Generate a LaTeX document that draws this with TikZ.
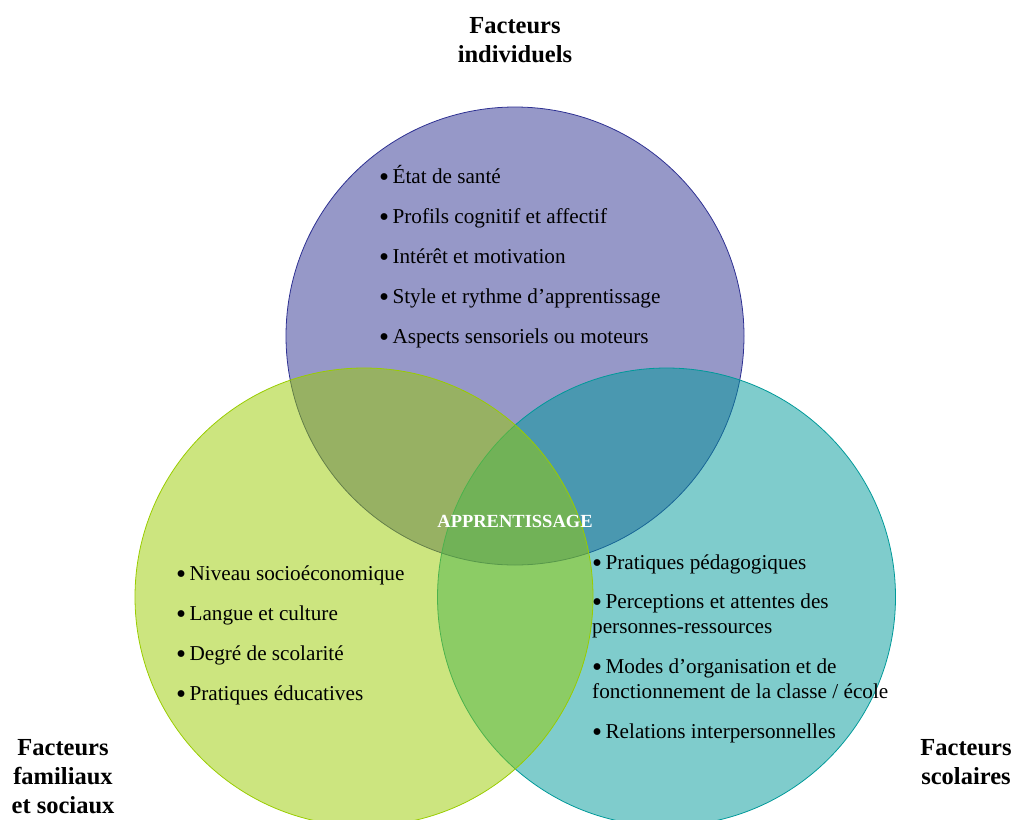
\documentclass[tikz,border=0pt]{standalone}
\usepackage{fontspec}
\setmainfont{Liberation Serif}
\definecolor{cTop}{HTML}{2E3192}
\definecolor{cLeft}{HTML}{99CC00}
\definecolor{cRight}{HTML}{009999}
\newcommand\mybul{\makebox[0.38em][l]{\raisebox{-0.17em}{\scalebox{1.35}{•}}}}
\begin{document}
\begin{tikzpicture}[x=1pt,y=-1pt,
  venn/.style={circle, minimum size=458pt, inner sep=0pt, outer sep=0pt, line width=0.8pt, fill opacity=0.5},
  item/.style={anchor=base west, inner sep=0pt, font=\fontsize{21.2}{26}\selectfont},
  title/.style={anchor=base, inner sep=0pt, font=\fontsize{24.5}{29}\selectfont\bfseries},
]
\useasboundingbox (0,0) rectangle (1019,819);
\clip (0,0) rectangle (1019,819);
% circles
\node[venn, draw=cTop, fill=cTop] (ctop) at (515,336) {};
\node[venn, draw=cRight, fill=cRight] (cright) at (666.5,597) {};
\node[venn, draw=cLeft, fill=cLeft] (cleft) at (364,597) {};
% titles
\node[title] (t1a) at (515,33) {Facteurs};
\node[title] (t1b) at (515,62) {individuels};
\node[title] (t2a) at (63,755) {Facteurs};
\node[title] (t2b) at (63,784) {familiaux};
\node[title] (t2c) at (63,813) {et sociaux};
\node[title] (t3a) at (966,755) {Facteurs};
\node[title] (t3b) at (966,784) {scolaires};
% centre
\node[anchor=base, inner sep=0pt, text=white, font=\fontsize{18.5}{22}\selectfont\bfseries] (center) at (515,527) {APPRENTISSAGE};
% top items
\node[item] (i1) at (379,183) {\mybul{} État de santé};
\node[item] (i2) at (379,223) {\mybul{} Profils cognitif et affectif};
\node[item] (i3) at (379,263) {\mybul{} Intérêt et motivation};
\node[item] (i4) at (379,303) {\mybul{} Style et rythme d’apprentissage};
\node[item] (i5) at (379,343) {\mybul{} Aspects sensoriels ou moteurs};
% left items
\node[item] (f1) at (176,580) {\mybul{} Niveau socioéconomique};
\node[item] (f2) at (176,620) {\mybul{} Langue et culture};
\node[item] (f3) at (176,660) {\mybul{} Degré de scolarité};
\node[item] (f4) at (176,700) {\mybul{} Pratiques éducatives};
% right items
\node[item] (s1) at (592,569) {\mybul{} Pratiques pédagogiques};
\node[item] (s2a) at (592,608) {\mybul{} Perceptions et attentes des};
\node[item] (s2b) at (592,633) {personnes-ressources};
\node[item] (s3a) at (592,673) {\mybul{} Modes d’organisation et de};
\node[item] (s3b) at (592,698) {fonctionnement de la classe / école};
\node[item] (s4) at (592,738) {\mybul{} Relations interpersonnelles};
\end{tikzpicture}
\end{document}
